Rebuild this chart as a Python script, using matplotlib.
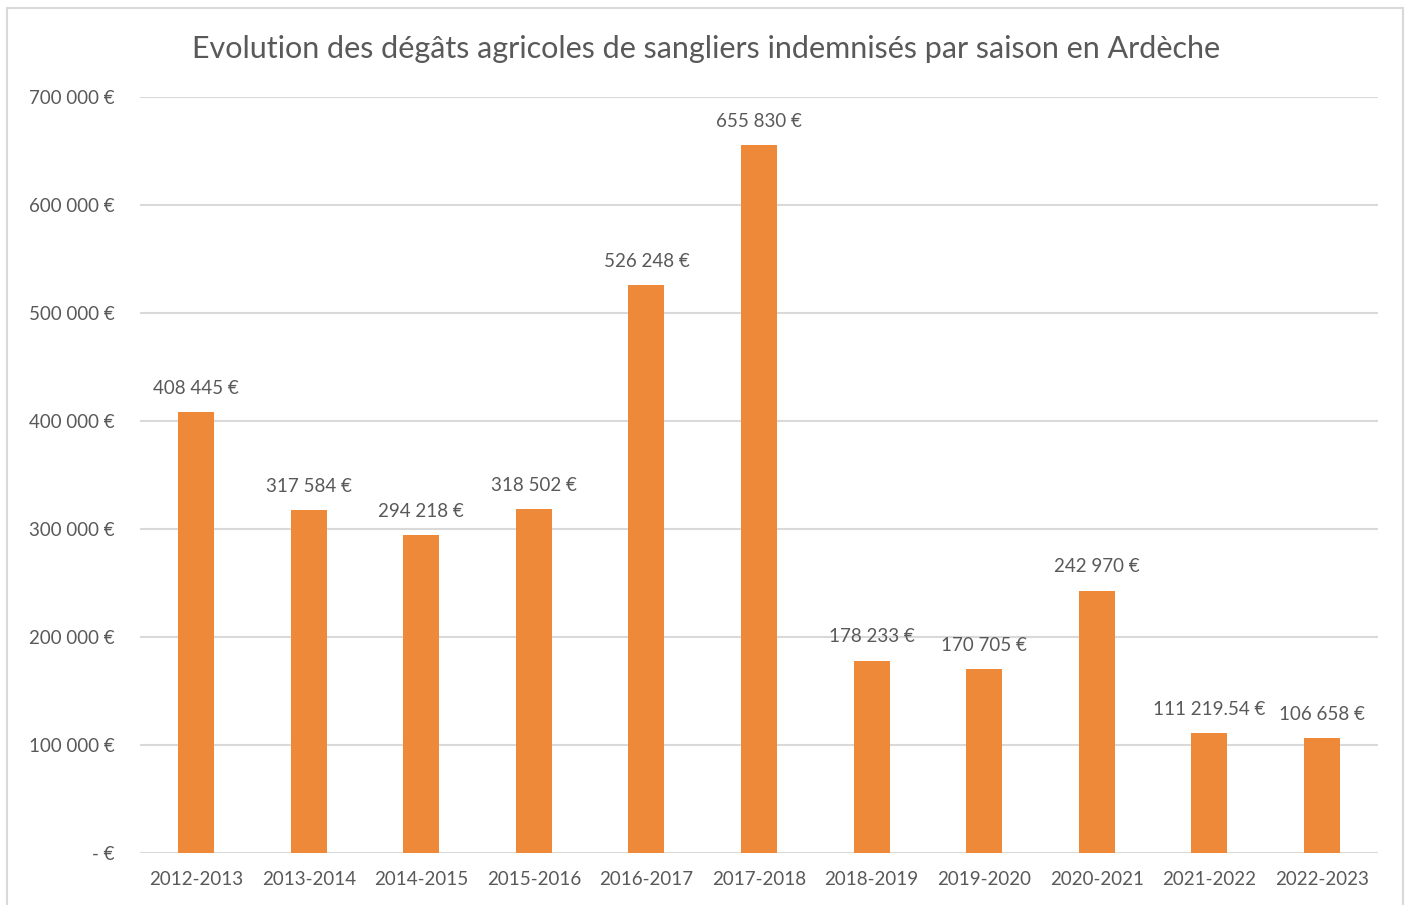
import numpy as np
import matplotlib
matplotlib.use('Agg')
import matplotlib.pyplot as plt
from matplotlib.patches import Rectangle

saisons = ['2012-2013', '2013-2014', '2014-2015', '2015-2016', '2016-2017', '2017-2018',
           '2018-2019', '2019-2020', '2020-2021', '2021-2022', '2022-2023']
degats = [408445, 317584, 294218, 318502, 526248, 655830, 178233, 170705, 242970, 111219.54, 106658]
etiquettes = ['408 445 €', '317 584 €', '294 218 €', '318 502 €', '526 248 €', '655 830 €',
              '178 233 €', '170 705 €', '242 970 €', '111 219.54 €', '106 658 €']
yticks = [0, 100000, 200000, 300000, 400000, 500000, 600000, 700000]
ytick_labels = ['- €', '100 000 €', '200 000 €', '300 000 €', '400 000 €', '500 000 €', '600 000 €', '700 000 €']

plt.rcParams['font.family'] = ['Lato', 'DejaVu Sans']
txt = '#595959'

W, H = 1407, 905
fig = plt.figure(figsize=(W / 100, H / 100), dpi=100)
ax = fig.add_axes([140 / W, 1 - 853 / H, (1378 - 140) / W, (853 - 97) / H])

# cadre du graphique
fig.patches.append(Rectangle((7 / W, -0.05), (1403 - 7) / W, (1 - 8 / H) + 0.05,
                             transform=fig.transFigure, fill=False, edgecolor='#d9d9d9', lw=1.5))

x = np.arange(len(saisons))
ax.bar(x, degats, width=0.32, color='#EE8939', zorder=3)
for xi, v, lab in zip(x, degats, etiquettes):
    ax.annotate(lab, (xi, v), xytext=(0, 17), textcoords='offset points',
                ha='center', va='center', fontsize=13.5, color=txt)

ax.set_xlim(-0.5, len(saisons) - 0.5)
ax.set_ylim(0, 700000)
ax.set_yticks(yticks)
ax.set_yticklabels(ytick_labels)
ax.set_xticks(x)
ax.set_xticklabels(saisons)
ax.tick_params(axis='y', length=0, pad=18, labelsize=13.5, labelcolor=txt)
ax.tick_params(axis='x', length=0, pad=13, labelsize=13.5, labelcolor=txt)
ax.grid(axis='y', color='#d9d9d9', lw=1.5, zorder=0)
for s in ax.spines.values():
    s.set_visible(False)

fig.text(706 / W, 1 - 49 / H, 'Evolution des dégâts agricoles de sangliers indemnisés par saison en Ardèche',
         ha='center', va='center', fontsize=22, color=txt)

fig.savefig('out.png', dpi=100)
